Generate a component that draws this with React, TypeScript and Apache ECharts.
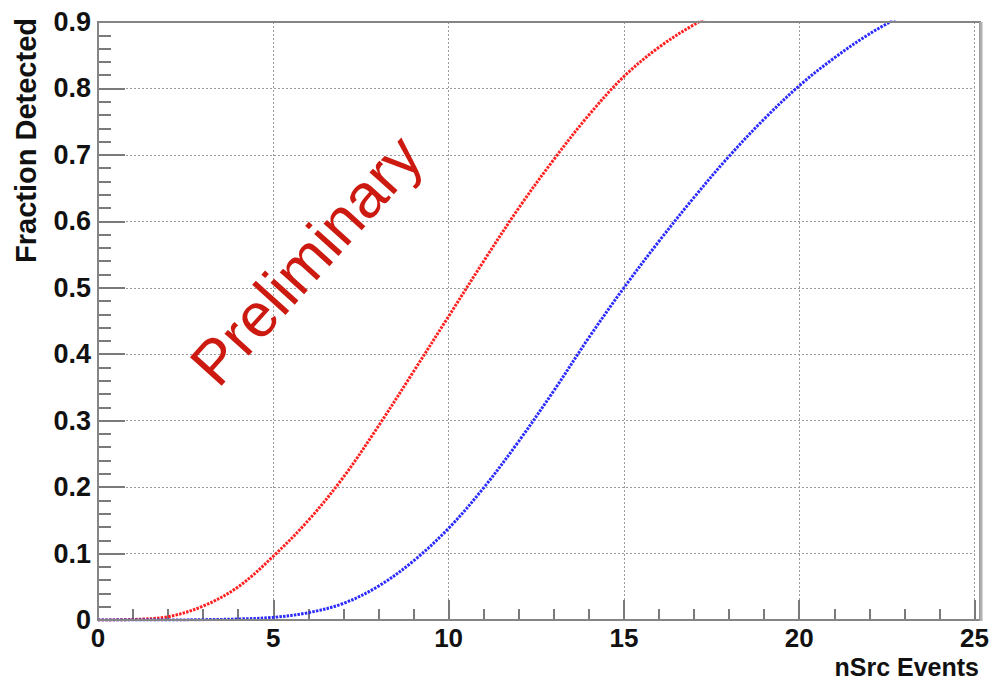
import React, { useEffect, useRef } from "react";
import * as echarts from "echarts";

// Red curve (left)
const redX = [0, 1, 2, 3, 4, 5, 6, 7, 8, 9, 10, 11, 12, 13, 14, 15, 16, 17, 18];
const redY = [0, 0.0008, 0.005, 0.021, 0.05, 0.096, 0.15, 0.215, 0.292, 0.374, 0.457, 0.54, 0.62, 0.693, 0.76, 0.818, 0.862, 0.896, 0.923];

// Blue curve (right)
const blueX = [0, 1, 2, 3, 4, 5, 6, 7, 8, 9, 10, 11, 12, 13, 14, 15, 16, 17, 18, 19, 20, 21, 22, 23];
const blueY = [0, 0, 0, 0.0005, 0.0015, 0.004, 0.011, 0.025, 0.051, 0.089, 0.138, 0.199, 0.269, 0.345, 0.425, 0.5, 0.57, 0.636, 0.698, 0.754, 0.804, 0.846, 0.882, 0.912];

const xTitle = "nSrc Events";
const yTitle = "Fraction Detected";
const watermark = "Preliminary";

const FONT = "'Liberation Sans', Arial, Helvetica, sans-serif";

export default function App() {
  const ref = useRef<HTMLDivElement>(null);

  useEffect(() => {
    if (!ref.current) return;
    const chart = echarts.init(ref.current, null, { renderer: "svg" });
    const axisGray = "#7a7a7a";
    const labelStyle = {
      fontFamily: FONT,
      fontWeight: "bold" as const,
      fontSize: 27,
      color: "#111",
    };
    chart.setOption({
      animation: false,
      backgroundColor: "#ffffff",
      grid: { left: 98, top: 22, width: 877, height: 598, containLabel: false },
      xAxis: {
        type: "value",
        min: 0,
        max: 25,
        interval: 5,
        axisLine: { show: true, onZero: false, lineStyle: { color: axisGray, width: 2 } },
        axisTick: { show: true, inside: true, length: 20, lineStyle: { color: axisGray, width: 2 } },
        minorTick: { show: true, splitNumber: 5, length: 11, lineStyle: { color: axisGray, width: 2 } },
        splitLine: { show: true, lineStyle: { color: "#9a9a9a", type: [2, 2], width: 1 } },
        axisLabel: { ...labelStyle, fontSize: 26, margin: 5, lineHeight: 26 },
      },
      yAxis: {
        type: "value",
        min: 0,
        max: 0.9,
        interval: 0.1,
        axisLine: { show: true, onZero: false, lineStyle: { color: axisGray, width: 2 } },
        axisTick: { show: true, inside: true, length: 27, lineStyle: { color: axisGray, width: 2 } },
        minorTick: { show: true, splitNumber: 5, length: 13, lineStyle: { color: axisGray, width: 2 } },
        splitLine: { show: true, lineStyle: { color: "#9a9a9a", type: [2, 2], width: 1 } },
        axisLabel: {
          ...labelStyle,
          margin: 7,
          formatter: (v: number) => (Math.abs(v) < 1e-9 ? "0" : v.toFixed(1)),
        },
      },
      graphic: [
        {
          type: "rect",
          z: 100,
          silent: true,
          shape: { x: 98, y: 22, width: 882, height: 598 },
          style: { fill: "none", stroke: "#858585", lineWidth: 2 },
        },
        {
          type: "line",
          z: 100,
          silent: true,
          shape: { x1: 981, y1: 22, x2: 981, y2: 621 },
          style: { stroke: "#b0b0b0", lineWidth: 3 },
        },
        {
          type: "text",
          x: 26,
          y: 18,
          rotation: Math.PI / 2,
          style: {
            text: yTitle,
            fontFamily: FONT,
            fontWeight: "bold",
            fontSize: 29,
            fill: "#111",
            align: "right",
            verticalAlign: "middle",
          },
        },
        {
          type: "text",
          x: 979,
          y: 681,
          style: {
            text: xTitle,
            fontFamily: FONT,
            fontWeight: "bold",
            fontSize: 25,
            lineHeight: 28,
            fill: "#111",
            align: "right",
            verticalAlign: "bottom",
          },
        },
        {
          type: "text",
          x: 306,
          y: 260,
          rotation: (48 * Math.PI) / 180,
          z: 50,
          style: {
            text: watermark,
            fontFamily: FONT,
            fontSize: 62,
            fill: "#cc1a10",
            align: "center",
            verticalAlign: "middle",
          },
        },
      ],
      series: [
        {
          type: "line",
          name: "red",
          data: redX.map((x, i) => [x, redY[i]]),
          showSymbol: false,
          smooth: 0.35,
          clip: true,
          lineStyle: { color: "#ff2020", width: 3, type: [2.5, 1.2] },
        },
        {
          type: "line",
          name: "blue",
          data: blueX.map((x, i) => [x, blueY[i]]),
          showSymbol: false,
          smooth: 0.35,
          clip: true,
          lineStyle: { color: "#2b2bff", width: 3, type: [2.5, 1.2] },
        },
      ],
    });
    return () => chart.dispose();
  }, []);

  return (
    <div
      ref={ref}
      style={{ position: "absolute", left: 0, top: 0, width: 992, height: 681, background: "#fff" }}
    />
  );
}
